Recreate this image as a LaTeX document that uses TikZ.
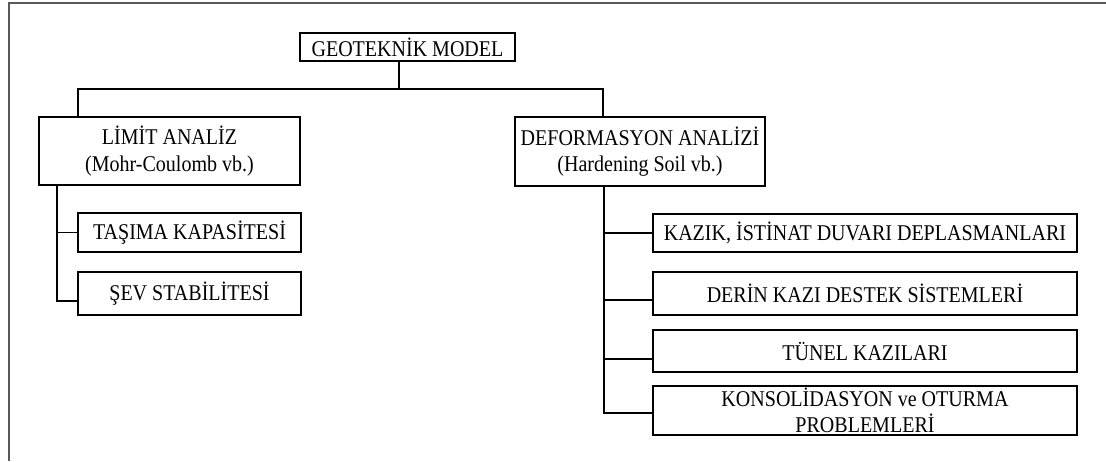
\documentclass[tikz,border=0pt]{standalone}
\usepackage{fontspec}
\setmainfont{Liberation Serif}[FakeStretch=0.89]
\begin{document}
\begin{tikzpicture}[x=1pt,y=-1pt,
  box/.style={draw=black,line width=1.6pt,inner sep=0pt,align=center,
    font=\fontsize{22.5}{26.5}\selectfont},
  conn/.style={draw=black,line width=1.6pt},
  frame/.style={draw=black!65,line width=1.4pt}]
\useasboundingbox (0,0) rectangle (1106,461);
\draw[frame] (9,461) -- (9,3) -- (1106,3);
% boxes
\node[box,minimum width=215pt,minimum height=28pt] (geo) at (407.5,47) {GEOTEKNİK MODEL};
\node[box,minimum width=261pt,minimum height=68pt] (limit) at (169.5,151) {LİMİT ANALİZ\\(Mohr-Coulomb vb.)};
\node[box,minimum width=250pt,minimum height=69pt] (deform) at (640,151.5) {DEFORMASYON ANALİZİ\\(Hardening Soil vb.)};
\node[box,minimum width=223pt,minimum height=39pt] (tasima) at (189.5,232.5) {TAŞIMA KAPASİTESİ};
\node[box,minimum width=223pt,minimum height=43pt] (sev) at (189.5,293.5) {ŞEV STABİLİTESİ};
\node[box,minimum width=424pt,minimum height=38pt] (kazik) at (865,233) {KAZIK, İSTİNAT DUVARI DEPLASMANLARI};
\node[box,minimum width=424pt,minimum height=43pt] (derin) at (865,293.5) {DERİN KAZI DESTEK SİSTEMLERİ};
\node[box,minimum width=424pt,minimum height=42pt] (tunel) at (865,351) {TÜNEL KAZILARI};
\node[box,minimum width=424pt,minimum height=49pt] (konsol) at (865,410.5) {KONSOLİDASYON ve OTURMA\\PROBLEMLERİ};
% connectors
\coordinate (hub) at (399,89);
\draw[conn] (geo.south -| hub) -- (hub);
\draw[conn] (limit.north -| 78,0) |- (hub) -| (deform.north -| 603,0);
\draw[conn] (limit.south -| 57,0) |- (tasima.west);
\draw[conn] (57,232.5) |- (sev.west |- 0,301);
\draw[conn] (deform.south -| 604,0) |- (kazik.west);
\draw[conn] (604,233) |- (derin.west |- 0,300);
\draw[conn] (604,300) |- (tunel.west |- 0,359);
\draw[conn] (604,359) |- (konsol.west |- 0,413);
\end{tikzpicture}
\end{document}
